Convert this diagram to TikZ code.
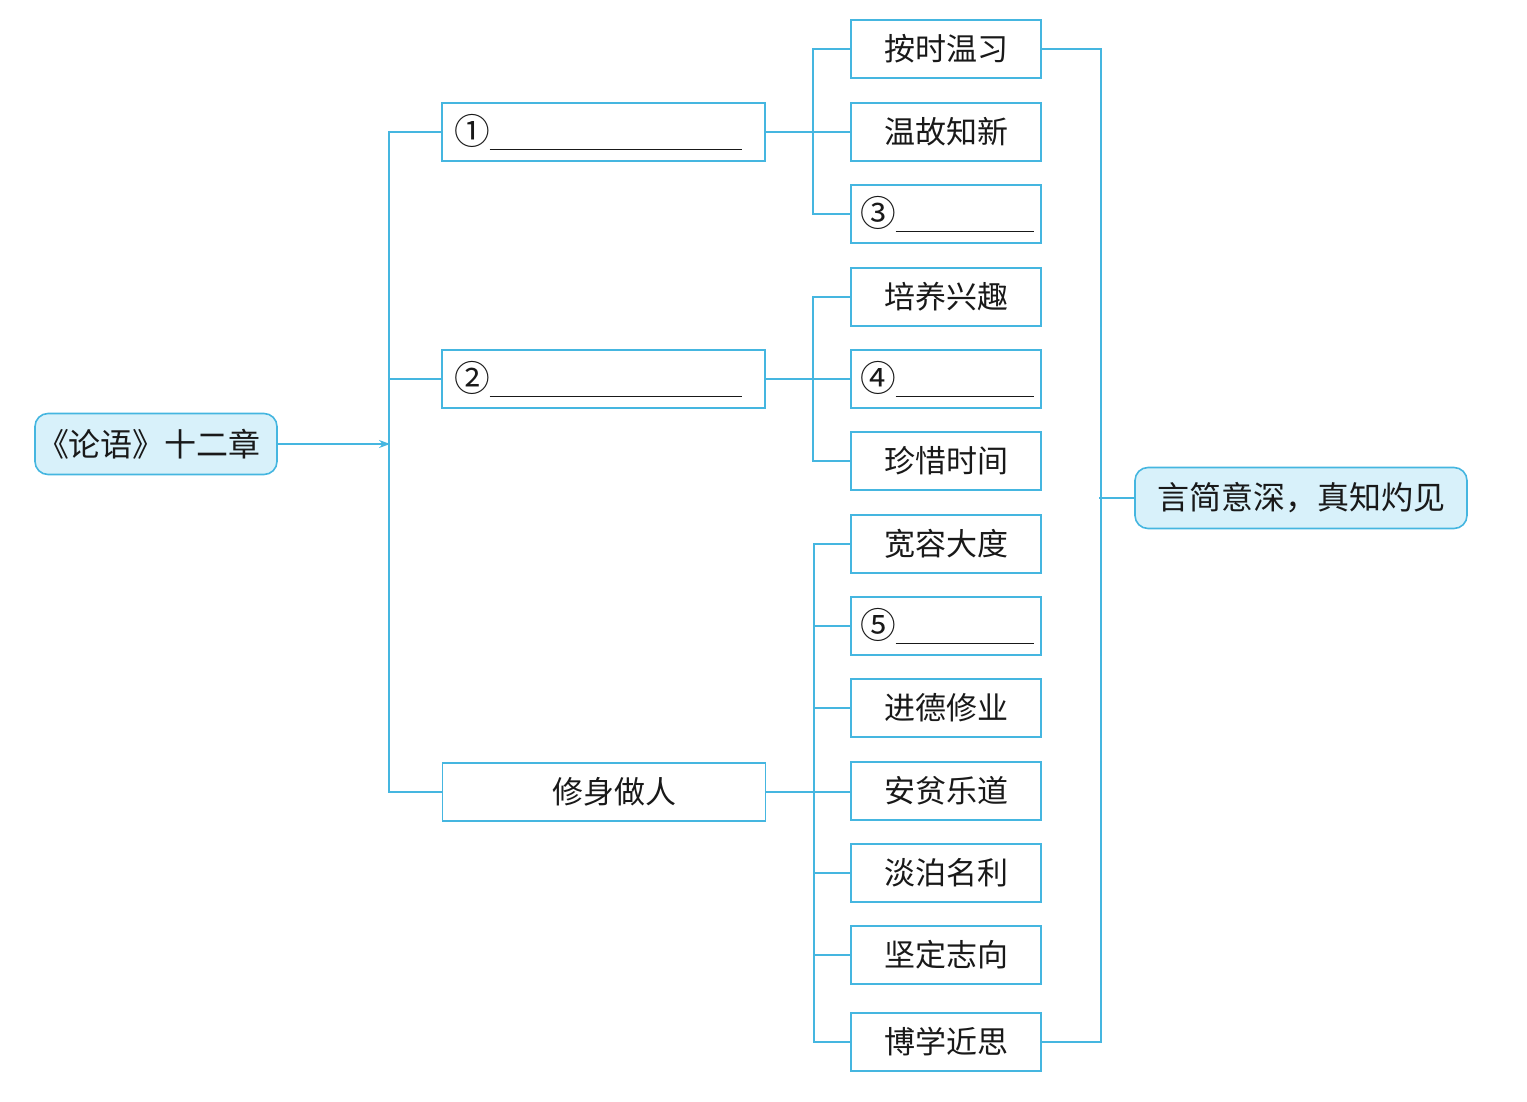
\documentclass[tikz,border=0pt]{standalone}
\usepackage{fontspec}
\newfontfamily\cjk{Noto Sans CJK SC}
\usetikzlibrary{arrows.meta}
\definecolor{lc}{HTML}{45B6E0}
\definecolor{fc}{HTML}{D8F1FA}
\newcommand{\circnum}[1]{\raisebox{-2pt}{\scalebox{1.15}{#1}}}
\tikzset{
  conn/.style={draw=lc, line width=1.6pt},
  basebox/.style={draw=lc, line width=1.6pt, font=\cjk\fontsize{31pt}{36pt}\selectfont, text=black!90, inner sep=0pt},
  midbox/.style={basebox, minimum width=323pt, minimum height=58pt},
  rbox/.style={basebox, minimum width=190pt, minimum height=58pt},
  endbox/.style={basebox, fill=fc, rounded corners=13pt, minimum height=61pt, font=\cjk\fontsize{32pt}{36pt}\selectfont},
  blankmid/.style={midbox, text width=299pt, align=left, inner xsep=12pt},
  blankr/.style={rbox, text width=172pt, align=left, inner xsep=9pt},
}
\begin{document}
\begin{tikzpicture}[x=1pt,y=-1pt]
\useasboundingbox (0,0) rectangle (1527,1102);
% end nodes
\node[endbox, minimum width=242pt] (L) at (156,444) {\hspace{-14pt}《论语》十二章};
\node[endbox, minimum width=332pt] (R) at (1301,498) {言简意深，真知灼见};
\coordinate (J) at (390,444);
% middle boxes
\node[blankmid] (m1) at (603.5,132) {\circnum{①}\rule[-8pt]{252pt}{1.2pt}};
\node[blankmid] (m2) at (603.5,379) {\circnum{②}\rule[-8pt]{252pt}{1.2pt}};
\node[midbox] (m3) at (604,792) {\hspace{20pt}修身做人};
% right boxes
\node[rbox] (r1) at (946,49) {按时温习};
\node[rbox] (r2) at (946,132) {温故知新};
\node[blankr] (r3) at (946,214) {\circnum{③}\rule[-8pt]{138pt}{1.2pt}};
\node[rbox] (r4) at (946,297) {培养兴趣};
\node[blankr] (r5) at (946,379) {\circnum{④}\rule[-8pt]{138pt}{1.2pt}};
\node[rbox] (r6) at (946,461) {珍惜时间};
\node[rbox] (r7) at (946,544) {宽容大度};
\node[blankr] (r8) at (946,626) {\circnum{⑤}\rule[-8pt]{138pt}{1.2pt}};
\node[rbox] (r9) at (946,708) {进德修业};
\node[rbox] (r10) at (946,791) {安贫乐道};
\node[rbox] (r11) at (946,873) {淡泊名利};
\node[rbox] (r12) at (946,955) {坚定志向};
\node[rbox] (r13) at (946,1042) {博学近思};
% connectors
\draw[conn, -{Stealth[length=11pt,width=8pt]}] (L.east) -- (J);
\draw[conn] (m1.west) -- ++(-52,0) |- (m3.west);
\draw[conn] (m2.west) -- (m2.west -| J);
\draw[conn] (m1.east) -- (r2.west);
\draw[conn] (r1.west) -- ++(-37,0) |- (r3.west);
\draw[conn] (m2.east) -- (r5.west);
\draw[conn] (r4.west) -- ++(-37,0) |- (r6.west);
\draw[conn] (m3.east) -- (m3.east -| r10.west);
\draw[conn] (r7.west) -- ++(-36,0) |- (r13.west);
\draw[conn] (r8.west) -- ++(-36,0);
\draw[conn] (r9.west) -- ++(-36,0);
\draw[conn] (r11.west) -- ++(-36,0);
\draw[conn] (r12.west) -- ++(-36,0);
\draw[conn] (r1.east) -- ++(59,0) |- (r13.east);
\draw[conn] (R.west) -- ++(-35,0);
\end{tikzpicture}
\end{document}
